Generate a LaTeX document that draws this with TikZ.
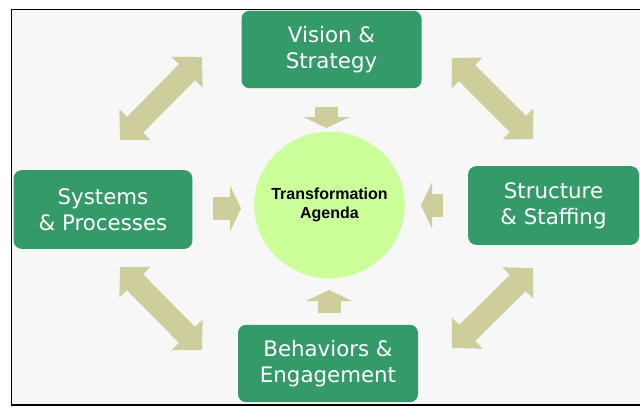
\documentclass[tikz,border=0pt]{standalone}
\usepackage{fontspec}
\usetikzlibrary{positioning, arrows.meta, shapes.geometric}
\newfontfamily\boxfont{DejaVu Sans}
\newfontfamily\agendafont{Liberation Sans}
\definecolor{myGreen}{RGB}{53,154,106}
\definecolor{myKhaki}{RGB}{205,206,155}
\definecolor{myLime}{RGB}{204,255,153}
\definecolor{myPaper}{RGB}{247,247,247}

\begin{document}
\begin{tikzpicture}[
  x=0.75pt, y=-0.75pt,
  area/.style={fill=myGreen, rounded corners=6pt, text=white, align=center,
    inner sep=0pt, font=\boxfont\fontsize{16}{19.5}\selectfont},
  hub/.style={ellipse, fill=myLime, inner xsep=-10pt, inner ysep=0pt, align=center,
    font=\agendafont\bfseries\fontsize{12}{14}\selectfont},
  link/.style={myKhaki, line width=17pt,
    arrows={Triangle[width=32pt,length=16pt]-Triangle[width=32pt,length=16pt]}},
  push/.style={myKhaki, line width=17.25pt,
    arrows={-Triangle[width=34.5pt,length=8.25pt]}},
]
  \useasboundingbox (0,0) rectangle (640,407);
  \draw[fill=myPaper, line width=1pt] (11.5,9.5) rectangle (700,405);

  % the four areas and the agenda in the middle
  \node[area, minimum width=135pt, minimum height=58pt] (vision) at (331.5,49.5)
    {Vision \&\\Strategy};
  \node[area, minimum width=134pt, minimum height=59pt] (systems) at (103,209.5)
    {Systems\\\& Processes};
  \node[area, minimum width=128pt, minimum height=59pt] (structure) at (553.5,205.5)
    {Structure\\\& Staffing};
  \node[area, minimum width=135pt, minimum height=58pt] (behaviors) at (328,363.5)
    {Behaviors \&\\Engagement};
  \node[hub, minimum width=113pt, minimum height=110pt] (agenda) at (329.5,205)
    {Transformation\\Agenda};

  % ends of the block arrows
  \coordinate (tl-a) at (202,57);   \coordinate (tl-b) at (120,140);
  \coordinate (tr-a) at (452,58);   \coordinate (tr-b) at (533,139);
  \coordinate (bl-a) at (120,267);  \coordinate (bl-b) at (202,350);
  \coordinate (br-a) at (533,268);  \coordinate (br-b) at (452,348);
  \coordinate (in-n) at (326.5,107); \coordinate (to-n) at (326.5,128);
  \coordinate (in-s) at (329,313);   \coordinate (to-s) at (329,290);
  \coordinate (in-w) at (213,208.5); \coordinate (to-w) at (241,208.5);
  \coordinate (in-e) at (443,205.5); \coordinate (to-e) at (421,205.5);

  \draw[link] (tl-a) -- (tl-b);
  \draw[link] (tr-a) -- (tr-b);
  \draw[link] (bl-a) -- (bl-b);
  \draw[link] (br-a) -- (br-b);

  \draw[push] (in-n) -- (to-n);
  \draw[push] (in-s) -- (to-s);
  \draw[push] (in-w) -- (to-w);
  \draw[push] (in-e) -- (to-e);
\end{tikzpicture}
\end{document}
